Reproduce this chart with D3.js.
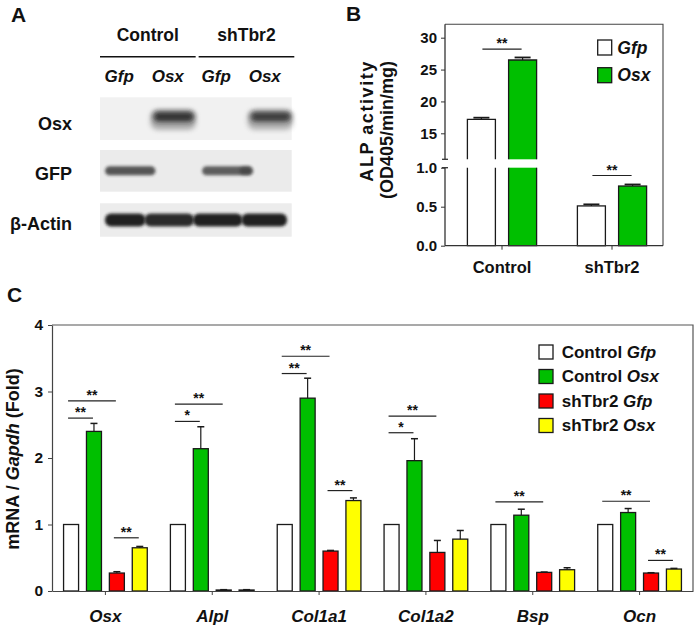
<!DOCTYPE html>
<html><head><meta charset="utf-8">
<script src="https://cdn.jsdelivr.net/npm/d3@7"></script>
<style>
body{margin:0;background:#fff;}
svg{display:block;font-family:"Liberation Sans",Arial,sans-serif;}
text{fill:#111;}
</style></head>
<body><svg id="fig" width="697" height="629"></svg>
<script>
// ---------------- DATA ----------------
// Panel A (western blot lanes and relative band intensities)
const laneGroups = ["Control", "shTbr2"];
const laneLabels = ["Gfp", "Osx", "Gfp", "Osx"];
const blotRows = ["Osx", "GFP", "β-Actin"];
const osxBand = [0, 1, 0, 0.92];
const gfpBand = [0.85, 0, 0.8, 0.15];
const actinBand = [1, 0.95, 1, 1];

// Panel B
const groupsB = ["Control", "shTbr2"];
const seriesB = ["Gfp", "Osx"];
const gfpB = [17.2, 0.51];
const osxB = [26.5, 0.765];
const gfpBErr = [0.25, 0.02];
const osxBErr = [0.4, 0.02];
const ticksBLow = [0.0, 0.5, 1.0];
const ticksBHigh = [15, 20, 25, 30];
const sigB = [{group: "Control", level: 28.2, label: "**"}, {group: "shTbr2", level: 0.9, label: "**"}];

// Panel C
const genes = ["Osx", "Alpl", "Col1a1", "Col1a2", "Bsp", "Ocn"];
const seriesC = ["Control Gfp", "Control Osx", "shTbr2 Gfp", "shTbr2 Osx"];
const controlGfp = [1, 1, 1, 1, 1, 1];
const controlOsx = [2.40, 2.14, 2.90, 1.96, 1.14, 1.18];
const shTbr2Gfp = [0.27, 0.015, 0.60, 0.58, 0.28, 0.27];
const shTbr2Osx = [0.65, 0.015, 1.36, 0.78, 0.32, 0.33];
const controlGfpErr = [0, 0, 0, 0, 0, 0];
const controlOsxErr = [0.12, 0.33, 0.30, 0.33, 0.09, 0.06];
const shTbr2GfpErr = [0.02, 0.005, 0.01, 0.18, 0.005, 0.005];
const shTbr2OsxErr = [0.02, 0.005, 0.04, 0.13, 0.03, 0.01];
const ticksC = [0, 1, 2, 3, 4];
const sigC = [
  {gene: "Osx", from: 0, to: 1, level: 2.60, label: "**"},
  {gene: "Osx", from: 0, to: 2, level: 2.86, label: "**"},
  {gene: "Osx", from: 2, to: 3, level: 0.80, label: "**"},
  {gene: "Alpl", from: 0, to: 1, level: 2.55, label: "*"},
  {gene: "Alpl", from: 0, to: 2, level: 2.81, label: "**"},
  {gene: "Col1a1", from: 0, to: 1, level: 3.27, label: "**"},
  {gene: "Col1a1", from: 0, to: 2, level: 3.53, label: "**"},
  {gene: "Col1a1", from: 2, to: 3, level: 1.51, label: "**"},
  {gene: "Col1a2", from: 0, to: 1, level: 2.38, label: "*"},
  {gene: "Col1a2", from: 0, to: 2, level: 2.63, label: "**"},
  {gene: "Bsp", from: 0, to: 2, level: 1.34, label: "**"},
  {gene: "Ocn", from: 0, to: 2, level: 1.35, label: "**"},
  {gene: "Ocn", from: 2, to: 3, level: 0.46, label: "**"}
];

// ---------------- DRAW ----------------
const svg = d3.select("#fig");
const colC = ["#ffffff", "#00bf00", "#ff0000", "#ffff00"];
const ink = "#1a1a1a";

const defs = svg.append("defs");
defs.append("filter").attr("id", "blur").attr("x", "-30%").attr("y", "-80%").attr("width", "160%").attr("height", "260%")
  .append("feGaussianBlur").attr("stdDeviation", 2.8);
defs.append("filter").attr("id", "blur2").attr("x", "-20%").attr("y", "-80%").attr("width", "140%").attr("height", "260%")
  .append("feGaussianBlur").attr("stdDeviation", 1.6);

// panel letters
[["A", 11, 22], ["B", 346, 21], ["C", 7, 302]].forEach(([t, x, y]) =>
  svg.append("text").attr("x", x).attr("y", y).attr("font-size", 21).attr("font-weight", "bold").text(t));

// ---------- Panel A ----------
const gA = svg.append("g");
const laneX = d3.scaleBand().domain(d3.range(4)).range([96, 290]);
const grpX = d3.scaleBand().domain(laneGroups).range([100, 294.3]).paddingInner(0.03);
laneGroups.forEach(g => {
  gA.append("text").attr("x", grpX(g) + grpX.bandwidth() / 2).attr("y", 40.7).attr("text-anchor", "middle")
    .attr("font-size", 17.5).attr("font-weight", "bold").text(g);
  gA.append("line").attr("x1", grpX(g)).attr("x2", grpX(g) + grpX.bandwidth()).attr("y1", 56.7).attr("y2", 56.7)
    .attr("stroke", "#111").attr("stroke-width", 1.5);
});
laneLabels.forEach((l, i) => {
  gA.append("text").attr("x", laneX(i) + laneX.bandwidth() / 2 - 1).attr("y", 81.5).attr("text-anchor", "middle")
    .attr("font-size", 17).attr("font-weight", "bold").attr("font-style", "italic").text(l);
});
const stripY = d3.scaleOrdinal().domain(blotRows).range([[97.3, 140], [150, 191.7], [203.3, 236.7]]);
const stripFill = d3.scaleOrdinal().domain(blotRows).range(["#f1f1f1", "#ebebeb", "#ececec"]);
const labelBase = d3.scaleOrdinal().domain(blotRows).range([130, 180, 230]);
const blotData = [osxBand, gfpBand, actinBand];
blotRows.forEach((r, ri) => {
  const [y0, y1] = stripY(r);
  gA.append("rect").attr("x", 100).attr("y", y0).attr("width", 191.7).attr("height", y1 - y0).attr("fill", stripFill(r));
  gA.append("text").attr("x", 72).attr("y", labelBase(r)).attr("text-anchor", "end")
    .attr("font-size", 18).attr("font-weight", "bold").text(r);
  const vals = blotData[ri];
  const cy = (y0 + y1) / 2;
  vals.forEach((v, li) => {
    if (v <= 0) return;
    const lx = laneX(li), lw = laneX.bandwidth();
    if (ri === 0) {
      gA.append("rect").attr("x", lx + 6).attr("y", cy - 9).attr("width", lw - 3).attr("height", 20).attr("rx", 7)
        .attr("fill", "#555").attr("opacity", 0.45 * v).attr("filter", "url(#blur)");
      gA.append("rect").attr("x", lx + 9).attr("y", cy - 7).attr("width", lw - 8).attr("height", 10).attr("rx", 5)
        .attr("fill", "#1a1a1a").attr("opacity", 0.85 * v).attr("filter", "url(#blur)");
    } else if (ri === 1) {
      const w = v < 0.3 ? 14 : lw + 2;
      const x = v < 0.3 ? lx - 2 : lx + 9;
      gA.append("rect").attr("x", x).attr("y", cy - 4.5).attr("width", w).attr("height", 9).attr("rx", 4.5)
        .attr("fill", "#1e1e1e").attr("opacity", 0.85 * v + (v < 0.3 ? 0.2 : 0)).attr("filter", "url(#blur2)");
    } else {
      gA.append("rect").attr("x", lx + (li === 0 ? 9 : 0)).attr("y", cy - 6.5).attr("width", lw + 1 - (li === 0 ? 9 : 0) - (li === 3 ? 4 : 0)).attr("height", 13).attr("rx", 6)
        .attr("fill", "#151515").attr("opacity", 0.95 * v).attr("filter", "url(#blur2)");
    }
  });
});

// ---------- Panel B ----------
const gB = svg.append("g");
const bL = 445, bR = 663, bT = 24.3, bB = 245.7;
const yLow = d3.scaleLinear().domain([0, 1]).range([bB, 167.7]);
const yHigh = d3.scaleLinear().domain([15, 30]).range([133.3, 37.7]);
const breakHighPx = 159.3;
const xB = d3.scaleBand().domain(groupsB).range([447, 667]);
const xBs = d3.scaleBand().domain(seriesB).range([-41.2, 41.2]);
const colB = ["#ffffff", "#00bf00"];
const barW_B = 28;
const valsB = [gfpB, osxB], errsB = [gfpBErr, osxBErr];
const yB = v => v <= 1 ? yLow(v) : yHigh(v);

groupsB.forEach((g, gi) => {
  seriesB.forEach((s, si) => {
    const v = valsB[si][gi], e = errsB[si][gi];
    const cx = xB(g) + xB.bandwidth() / 2 + xBs(s) + xBs.bandwidth() / 2;
    const x0 = cx - barW_B / 2;
    if (v <= 1) {
      gB.append("rect").attr("x", x0).attr("y", yLow(v)).attr("width", barW_B).attr("height", bB - yLow(v))
        .attr("fill", colB[si]).attr("stroke", ink).attr("stroke-width", 1.3);
    } else {
      gB.append("rect").attr("x", x0).attr("y", yLow(1)).attr("width", barW_B).attr("height", bB - yLow(1)).attr("fill", colB[si]);
      gB.append("path").attr("d", `M${x0},${yLow(1)}V${bB}H${x0 + barW_B}V${yLow(1)}`).attr("fill", "none").attr("stroke", ink).attr("stroke-width", 1.3);
      gB.append("rect").attr("x", x0).attr("y", yHigh(v)).attr("width", barW_B).attr("height", breakHighPx - yHigh(v)).attr("fill", colB[si]);
      gB.append("path").attr("d", `M${x0},${breakHighPx}V${yHigh(v)}H${x0 + barW_B}V${breakHighPx}`).attr("fill", "none").attr("stroke", ink).attr("stroke-width", 1.3);
    }
    const yt = yB(v + e);
    gB.append("line").attr("x1", cx).attr("x2", cx).attr("y1", yB(v)).attr("y2", yt).attr("stroke", ink).attr("stroke-width", 1.2);
    gB.append("line").attr("x1", cx - 8).attr("x2", cx + 8).attr("y1", yt).attr("y2", yt).attr("stroke", ink).attr("stroke-width", 1.8);
  });
});
gB.append("path").attr("d", `M${bL},${bT}H${bR}V${bB}`).attr("fill", "none").attr("stroke", "#444").attr("stroke-width", 1.1);
gB.append("line").attr("x1", bL).attr("x2", bR).attr("y1", bB).attr("y2", bB).attr("stroke", "#333").attr("stroke-width", 1.3);
gB.append("line").attr("x1", bL).attr("x2", bL).attr("y1", bT).attr("y2", breakHighPx).attr("stroke", "#333").attr("stroke-width", 1.3);
gB.append("line").attr("x1", bL).attr("x2", bL).attr("y1", yLow(1)).attr("y2", bB).attr("stroke", "#333").attr("stroke-width", 1.3);
[breakHighPx, yLow(1)].forEach(y => gB.append("line").attr("x1", bL - 3).attr("x2", bL + 3).attr("y1", y).attr("y2", y).attr("stroke", "#333").attr("stroke-width", 1.3));
const axLow = d3.axisLeft(yLow).tickValues(ticksBLow).tickFormat(d3.format(".1f")).tickSize(4).tickSizeOuter(0);
const axHigh = d3.axisLeft(yHigh).tickValues(ticksBHigh).tickFormat(d3.format("d")).tickSize(4).tickSizeOuter(0);
[axLow, axHigh].forEach(ax => {
  const a = gB.append("g").attr("transform", `translate(${bL},0)`).call(ax);
  a.select(".domain").remove();
  a.selectAll("line").attr("stroke", "#333");
  a.selectAll("text").attr("font-size", 15).attr("font-weight", "bold").attr("font-family", "Liberation Sans, Arial").attr("fill", "#111").attr("x", -8);
});
const abx = gB.append("g").attr("transform", `translate(0,${bB})`).call(d3.axisBottom(xB).tickSize(4).tickSizeOuter(0).tickFormat(""));
abx.select(".domain").remove();
abx.selectAll("line").attr("stroke", "#333");
groupsB.forEach(g => gB.append("text").attr("x", xB(g) + xB.bandwidth() / 2).attr("y", 273.3).attr("text-anchor", "middle")
  .attr("font-size", 16.5).attr("font-weight", "bold").text(g));
gB.append("text").attr("transform", "translate(373,121.7) rotate(-90)").attr("text-anchor", "middle")
  .attr("font-size", 18).attr("font-weight", "bold").attr("textLength", 120).attr("lengthAdjust", "spacing").text("ALP activity");
gB.append("text").attr("transform", "translate(393,130) rotate(-90)").attr("text-anchor", "middle")
  .attr("font-size", 18).attr("font-weight", "bold").text("(OD405/min/mg)");
sigB.forEach(s => {
  const c0 = xB(s.group) + xB.bandwidth() / 2 + xBs(seriesB[0]) + xBs.bandwidth() / 2;
  const c1 = xB(s.group) + xB.bandwidth() / 2 + xBs(seriesB[1]) + xBs.bandwidth() / 2;
  const y = yB(s.level);
  gB.append("line").attr("x1", c0 + 1).attr("x2", c1 - 1).attr("y1", y).attr("y2", y).attr("stroke", "#222").attr("stroke-width", 1.2);
  gB.append("text").attr("x", (c0 + c1) / 2).attr("y", y - 1).attr("text-anchor", "middle").attr("font-size", 14).attr("font-weight", "bold").text(s.label);
});
seriesB.forEach((s, i) => {
  const y = 40 + i * 27.7;
  gB.append("rect").attr("x", 597.7).attr("y", y).attr("width", 14).attr("height", 15).attr("fill", colB[i]).attr("stroke", ink).attr("stroke-width", 1.3);
  gB.append("text").attr("x", 617.3).attr("y", y + 13.5).attr("font-size", 17.5).attr("font-weight", "bold").attr("font-style", "italic").text(s);
});

// ---------- Panel C ----------
const gC = svg.append("g");
const cL = 52, cR = 693, cT = 325, cB = 591;
const yC = d3.scaleLinear().domain([0, 4]).range([cB, cT]);
const xC = d3.scaleBand().domain(genes).range([cL, cR]);
const xCs = d3.scaleBand().domain(d3.range(4)).range([-45.8, 45.8]);
const barW = 15;
const valsC = [controlGfp, controlOsx, shTbr2Gfp, shTbr2Osx];
const errsC = [controlGfpErr, controlOsxErr, shTbr2GfpErr, shTbr2OsxErr];
const cxC = (g, s) => xC(g) + xC.bandwidth() / 2 + xCs(s) + xCs.bandwidth() / 2;

genes.forEach((g, gi) => {
  seriesC.forEach((s, si) => {
    const v = valsC[si][gi], e = errsC[si][gi];
    const cx = cxC(g, si);
    gC.append("rect").attr("x", cx - barW / 2).attr("y", yC(v)).attr("width", barW).attr("height", cB - yC(v))
      .attr("fill", colC[si]).attr("stroke", ink).attr("stroke-width", 1.3);
    if (e > 0) {
      const yt = yC(v + e);
      gC.append("line").attr("x1", cx).attr("x2", cx).attr("y1", yC(v)).attr("y2", yt).attr("stroke", ink).attr("stroke-width", 1.2);
      gC.append("line").attr("x1", cx - 3.5).attr("x2", cx + 3.5).attr("y1", yt).attr("y2", yt).attr("stroke", ink).attr("stroke-width", 1.5);
    }
  });
});
gC.append("path").attr("d", `M${cL},${cT}H${cR}V${cB}`).attr("fill", "none").attr("stroke", "#555").attr("stroke-width", 1.2);
const ayc = gC.append("g").attr("transform", `translate(${cL},0)`).call(d3.axisLeft(yC).tickValues(ticksC).tickFormat(d3.format("d")).tickSize(4).tickSizeOuter(0));
ayc.select(".domain").attr("stroke", "#444").attr("stroke-width", 1.2);
ayc.selectAll("line").attr("stroke", "#444");
ayc.selectAll("text").attr("font-size", 15.5).attr("font-weight", "bold").attr("font-family", "Liberation Sans, Arial").attr("fill", "#111").attr("x", -9);
const axc = gC.append("g").attr("transform", `translate(0,${cB})`).call(d3.axisBottom(xC).tickSize(4).tickSizeOuter(0).tickFormat(""));
axc.select(".domain").attr("stroke", "#444").attr("stroke-width", 1.2);
axc.selectAll("line").attr("stroke", "#444");
genes.forEach(g => gC.append("text").attr("x", xC(g) + xC.bandwidth() / 2).attr("y", 621.7).attr("text-anchor", "middle")
  .attr("font-size", 17).attr("font-weight", "bold").attr("font-style", "italic").text(g));
const ylab = gC.append("text").attr("transform", `translate(19,${(cT + cB) / 2 + 1}) rotate(-90)`).attr("text-anchor", "middle")
  .attr("font-size", 18).attr("font-weight", "bold");
ylab.append("tspan").text("mRNA / ");
ylab.append("tspan").attr("font-style", "italic").text("Gapdh");
ylab.append("tspan").text(" (Fold)");
sigC.forEach(s => {
  const x1 = cxC(s.gene, s.from) - 3, x2 = cxC(s.gene, s.to) - 1;
  const y = yC(s.level);
  gC.append("line").attr("x1", x1).attr("x2", x2).attr("y1", y).attr("y2", y).attr("stroke", "#222").attr("stroke-width", 1.2);
  gC.append("text").attr("x", (x1 + x2) / 2).attr("y", y - 1).attr("text-anchor", "middle").attr("font-size", 14).attr("font-weight", "bold").text(s.label);
});
seriesC.forEach((s, i) => {
  const y = 345 + i * 24.5;
  gC.append("rect").attr("x", 539).attr("y", y).attr("width", 14).attr("height", 14).attr("fill", colC[i]).attr("stroke", ink).attr("stroke-width", 1.3);
  const parts = s.split(" ");
  const t = gC.append("text").attr("x", 561.7).attr("y", y + 12.5).attr("font-size", 17).attr("font-weight", "bold");
  t.append("tspan").text(parts[0] + " ");
  t.append("tspan").attr("font-style", "italic").text(parts[1]);
});
</script></body></html>
